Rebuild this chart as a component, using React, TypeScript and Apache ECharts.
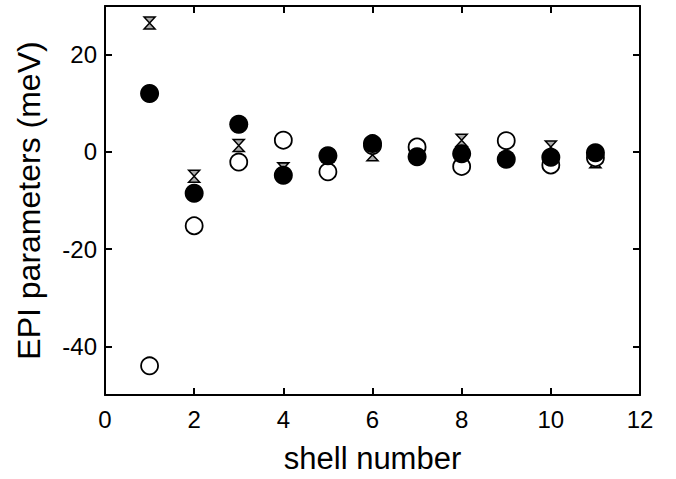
import React, { useEffect, useRef } from "react";
import * as echarts from "echarts";

const shells = [1, 2, 3, 4, 5, 6, 7, 8, 9, 10, 11];
const hourglassValues = [26.5, -5.0, 1.3, -3.5, -0.8, -0.6, -0.5, 2.4, -1.5, 1.0, -2.0];
const openValues = [-44.0, -15.2, -2.1, 2.4, -4.1, 1.3, 1.0, -3.0, 2.3, -2.7, -1.2];
const filledValues = [12.0, -8.5, 5.7, -4.8, -0.8, 1.7, -1.0, -0.4, -1.5, -1.1, -0.2];
const yTickValues = [-40, -20, 0, 20];

const FONT = "'Liberation Sans', Arial, Helvetica, sans-serif";

function pairs(vals: number[]) {
  return shells.map((s, i) => [s, vals[i]]);
}

export default function App() {
  const ref = useRef<HTMLDivElement>(null);
  useEffect(() => {
    document.body.style.margin = "0";
    const chart = echarts.init(ref.current!, null, { renderer: "svg" });
    const axisLine = { show: true, onZero: false, lineStyle: { color: "#000", width: 2 } };
    const tick = { show: true, inside: true, length: 7, lineStyle: { color: "#000", width: 2 } };
    chart.setOption({
      animation: false,
      backgroundColor: "#fff",
      grid: { left: 105, right: 36, top: 6, bottom: 80, containLabel: false },
      xAxis: [
        {
          type: "value",
          min: 0,
          max: 12,
          interval: 2,
          position: "bottom",
          axisLine,
          axisTick: tick,
          splitLine: { show: false },
          axisLabel: { fontSize: 24, color: "#000", margin: 12, fontFamily: FONT },
          name: "shell number",
          nameLocation: "middle",
          nameGap: 48,
          nameTextStyle: { fontSize: 31, color: "#000", fontFamily: FONT },
        },
        {
          type: "value",
          min: 0,
          max: 12,
          interval: 2,
          position: "top",
          axisLine,
          axisTick: tick,
          splitLine: { show: false },
          axisLabel: { show: false },
        },
      ],
      yAxis: [
        {
          type: "value",
          min: -50,
          max: 30,
          position: "left",
          axisLine,
          axisTick: { ...tick, customValues: yTickValues },
          splitLine: { show: false },
          axisLabel: { fontSize: 24, color: "#000", margin: 8, fontFamily: FONT, customValues: yTickValues },
          name: "EPI parameters (meV)",
          nameLocation: "middle",
          nameGap: 60,
          nameTextStyle: { fontSize: 32, color: "#000", fontFamily: FONT },
        },
        {
          type: "value",
          min: -50,
          max: 30,
          position: "right",
          axisLine,
          axisTick: { ...tick, customValues: yTickValues },
          splitLine: { show: false },
          axisLabel: { show: false, customValues: yTickValues },
        },
      ],
      series: [
        {
          name: "hourglass",
          type: "scatter",
          data: pairs(hourglassValues),
          symbol: "path://M0,0L10,0L0,12L10,12Z",
          symbolSize: [11, 12],
          itemStyle: { color: "#aaa", borderColor: "#000", borderWidth: 1.5, opacity: 1 },
          z: 2,
        },
        {
          name: "open",
          type: "scatter",
          data: pairs(openValues),
          symbol: "circle",
          symbolSize: 17,
          itemStyle: { color: "#fff", borderColor: "#000", borderWidth: 1.8, opacity: 1 },
          z: 3,
        },
        {
          name: "filled",
          type: "scatter",
          data: pairs(filledValues),
          symbol: "circle",
          symbolSize: 19,
          itemStyle: { color: "#000", borderColor: "#000", borderWidth: 0, opacity: 1 },
          z: 4,
        },
      ],
    });
    return () => chart.dispose();
  }, []);
  return <div ref={ref} style={{ width: 676, height: 479 }} />;
}
